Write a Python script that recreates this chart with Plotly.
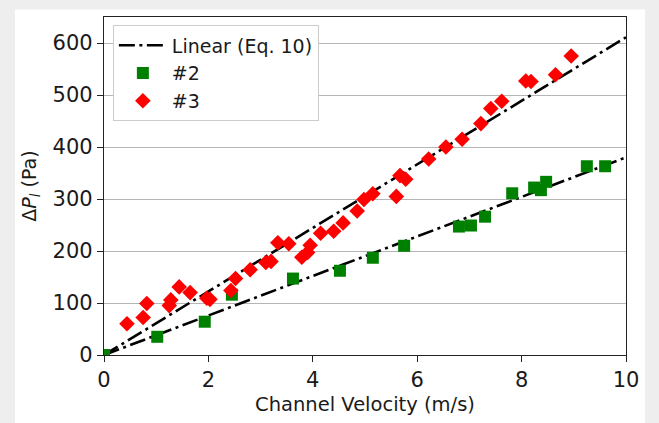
import plotly.graph_objects as go

# Series #2 (green squares)
v2 = [0.0, 1.02, 1.93, 2.45, 3.62, 4.52, 5.15, 5.75, 6.80, 7.03, 7.30, 7.82, 8.24, 8.37, 8.47, 9.25, 9.60]
dp2 = [0, 35, 64, 116, 147, 162, 187, 210, 247, 249, 266, 311, 322, 317, 333, 363, 363]

# Series #3 (red diamonds)
v3 = [0.44, 0.75, 0.82, 1.25, 1.28, 1.44, 1.65, 1.97, 2.03, 2.43, 2.52, 2.80, 3.10, 3.20, 3.33, 3.54,
      3.79, 3.90, 3.95, 4.15, 4.40, 4.58, 4.85, 4.98, 5.15, 5.60, 5.67, 5.78, 6.22, 6.55, 6.86,
      7.22, 7.41, 7.62, 8.08, 8.18, 8.65, 8.95]
dp3 = [60, 72, 99, 95, 106, 131, 120, 109, 107, 124, 147, 164, 178, 180, 216, 214,
       188, 197, 211, 234, 238, 254, 277, 299, 310, 305, 345, 338, 377, 400, 415,
       445, 474, 488, 527, 526, 539, 575]

# Linear fits (Eq. 10)
fit_x = [0, 10]
slope2 = 38.0
slope3 = 61.1

xticks = [0, 2, 4, 6, 8, 10]
yticks = [0, 100, 200, 300, 400, 500, 600]

FONT = "DejaVu Sans"
dash = "16px,4.5px,3px,4.5px"

fig = go.Figure()
fig.add_trace(go.Scatter(x=fit_x, y=[slope3 * v for v in fit_x], mode="lines",
                         line=dict(color="black", width=2.6, dash=dash),
                         name="Linear (Eq. 10)", showlegend=True))
fig.add_trace(go.Scatter(x=fit_x, y=[slope2 * v for v in fit_x], mode="lines",
                         line=dict(color="black", width=2.6, dash=dash),
                         name="Linear #2", showlegend=False))
fig.add_trace(go.Scatter(x=v2, y=dp2, mode="markers", name="#2",
                         marker=dict(symbol="square", size=12, color="#008000",
                                     line=dict(width=0))))
fig.add_trace(go.Scatter(x=v3, y=dp3, mode="markers", name="#3",
                         marker=dict(symbol="diamond", size=12, color="#ff0000",
                                     line=dict(width=0))))

# white card over grey surround
fig.add_shape(type="rect", xref="paper", yref="paper",
              x0=(15 - 104) / 522, x1=(645 - 104) / 522,
              y0=-0.3, y1=(355 - 9) / 338.5,
              fillcolor="white", line=dict(width=0), layer="below")

axis_common = dict(showline=True, linecolor="#222222", linewidth=1.2, mirror=True,
                   ticks="outside", ticklen=6, tickwidth=1.2, tickcolor="#222222",
                   tickfont=dict(family=FONT, size=21, color="#1a1a1a"),
                   zeroline=False)

fig.update_layout(
    width=659, height=423,
    margin=dict(l=104, r=33, t=16.5, b=68),
    paper_bgcolor="#eeeeee", plot_bgcolor="white",
    font=dict(family=FONT, color="#1a1a1a"),
    xaxis=dict(range=[0, 10], tickvals=xticks, showgrid=False,
               title=dict(text="Channel Velocity (m/s)", font=dict(family=FONT, size=19.5), standoff=6),
               **axis_common),
    yaxis=dict(range=[0, 650], tickvals=yticks, showgrid=True, gridcolor="#b5b5b5", gridwidth=1,
               title=dict(text="Δ<i>P<sub>l</sub></i> (Pa)", font=dict(family=FONT, size=19), standoff=10),
               **axis_common),
    legend=dict(x=0.017, y=0.975, xanchor="left", yanchor="top",
                bgcolor="white", bordercolor="#cccccc", borderwidth=1,
                font=dict(family=FONT, size=19, color="#1a1a1a"),
                itemwidth=48, tracegroupgap=0),
    showlegend=True,
)

fig.write_html("out.html")
